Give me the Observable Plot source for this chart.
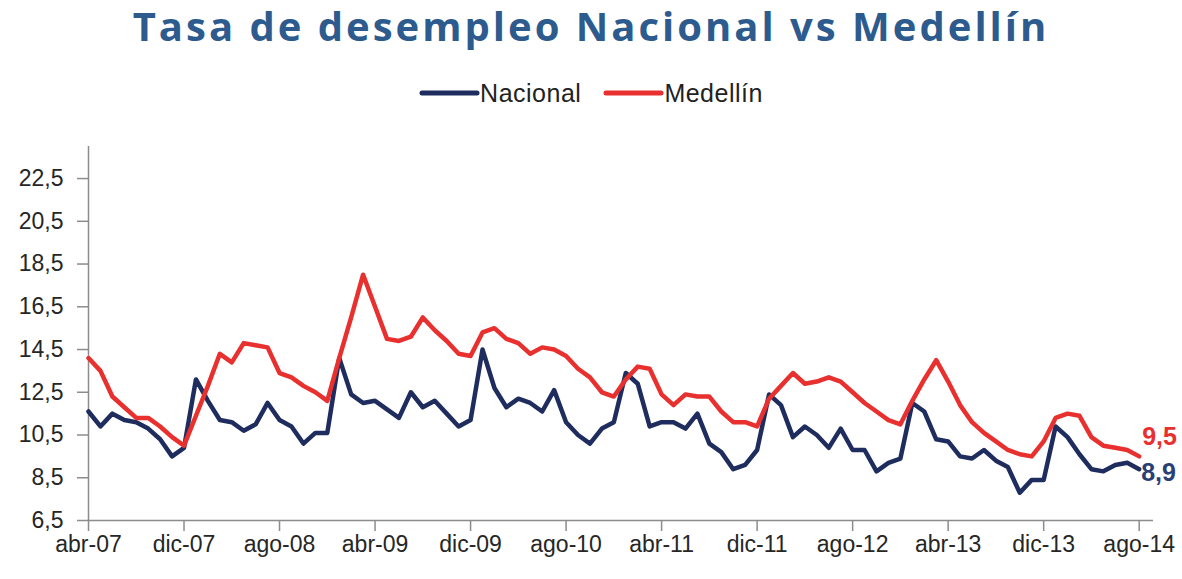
<!DOCTYPE html>
<html><head><meta charset="utf-8">
<script src="https://cdn.jsdelivr.net/npm/d3@7"></script>
<script src="https://cdn.jsdelivr.net/npm/@observablehq/plot@0.6"></script>
<style>
body{margin:0;background:#fff;width:1182px;height:579px;position:relative;overflow:hidden;font-family:"Liberation Sans",Arial,sans-serif;}
#title{position:absolute;left:0;top:0;width:1182px;height:52px;line-height:52px;text-align:center;font-family:"Open Sans",sans-serif;font-weight:700;font-size:40px;letter-spacing:3px;color:#2d5b8e;}
#legend{position:absolute;left:0;top:78px;width:1182px;height:30px;display:flex;justify-content:center;align-items:center;font-size:25px;color:#222;letter-spacing:0.5px;}
#legend svg{display:block;}
#chart{position:absolute;left:0;top:120px;}
</style></head>
<body>
<div id="title">Tasa de desempleo Nacional vs Medellín</div>
<div id="legend"></div>
<div id="chart"></div>
<script>
// Tick labels (every 8 months, starting abr-07)
const xLabels = ["abr-07","dic-07","ago-08","abr-09","dic-09","ago-10","abr-11","dic-11","ago-12","abr-13","dic-13","ago-14"];
const yTicks = [6.5, 8.5, 10.5, 12.5, 14.5, 16.5, 18.5, 20.5, 22.5];
const seriesNames = ["Nacional", "Medellín"];
const seriesColors = ["#1f2d5e", "#e8302f"];

// Monthly unemployment rate, abr-07 .. ago-14
const nacional = [
  11.6,10.9,11.5,11.2,11.1,10.8,10.3,9.5,9.9,13.1,
  12.1,11.2,11.1,10.7,11.0,12.0,11.2,10.9,10.1,10.6,
  10.6,14.1,12.4,12.0,12.1,11.7,11.3,12.5,11.8,12.1,
  11.5,10.9,11.2,14.5,12.7,11.8,12.2,12.0,11.6,12.6,
  11.1,10.5,10.1,10.8,11.1,13.4,12.9,10.9,11.1,11.1,
  10.8,11.5,10.1,9.7,8.9,9.1,9.8,12.4,11.9,10.4,
  10.9,10.5,9.9,10.8,9.8,9.8,8.8,9.2,9.4,12.0,
  11.6,10.3,10.2,9.5,9.4,9.8,9.3,9.0,7.8,8.4,
  8.4,10.9,10.4,9.6,8.9,8.8,9.1,9.2,8.9
];
const medellin = [
  14.1,13.5,12.3,11.8,11.3,11.3,10.9,10.4,10.0,11.4,
  12.8,14.3,13.9,14.8,14.7,14.6,13.4,13.2,12.8,12.5,
  12.1,14.1,16.0,18.0,16.5,15.0,14.9,15.1,16.0,15.4,
  14.9,14.3,14.2,15.3,15.5,15.0,14.8,14.3,14.6,14.5,
  14.2,13.6,13.2,12.5,12.3,13.1,13.7,13.6,12.4,11.9,
  12.4,12.3,12.3,11.6,11.1,11.1,10.9,12.2,12.8,13.4,
  12.9,13.0,13.2,13.0,12.5,12.0,11.6,11.2,11.0,12.1,
  13.1,14.0,13.0,11.9,11.1,10.6,10.2,9.8,9.6,9.5,
  10.2,11.3,11.5,11.4,10.4,10.0,9.9,9.8,9.5
];

const fmt = d => d.toFixed(1).replace(".", ",");

// Legend
const legend = document.getElementById("legend");
seriesNames.forEach((name, k) => {
  const ns = "http://www.w3.org/2000/svg";
  const s = document.createElementNS(ns, "svg");
  s.setAttribute("width", 61); s.setAttribute("height", 10);
  const l = document.createElementNS(ns, "line");
  l.setAttribute("x1", 3); l.setAttribute("x2", 58); l.setAttribute("y1", 5); l.setAttribute("y2", 5);
  l.setAttribute("stroke", seriesColors[k]); l.setAttribute("stroke-width", 5); l.setAttribute("stroke-linecap", "round");
  s.appendChild(l);
  legend.appendChild(s);
  const t = document.createElement("span");
  t.textContent = name;
  if (k === 0) t.style.marginRight = "22px";
  legend.appendChild(t);
});

const last = nacional.length - 1;
const axisColor = "#8c8c8c";
const textColor = "#262626";

const chart = Plot.plot({
  width: 1182,
  height: 459,
  marginLeft: 88,
  marginRight: 29,
  marginTop: 26,
  marginBottom: 59,
  x: {domain: [0, 89.2], axis: null},
  y: {domain: [6.5, 24], axis: null},
  style: {fontFamily: "'Liberation Sans', Arial, sans-serif", fontSize: "23px", color: textColor, background: "transparent", overflow: "visible"},
  marks: [
    Plot.axisY({ticks: yTicks, tickSize: 11, tickPadding: 14, tickFormat: fmt, stroke: axisColor, strokeWidth: 1.5, fill: textColor}),
    Plot.axisX({ticks: d3.range(0, xLabels.length * 8, 8), tickSize: 11, tickPadding: 4, tickFormat: d => xLabels[d / 8], stroke: axisColor, strokeWidth: 1.5, fill: textColor}),
    Plot.ruleX([0], {stroke: axisColor, strokeWidth: 1.5}),
    Plot.ruleY([6.5], {stroke: axisColor, strokeWidth: 1.5}),
    Plot.lineY(nacional, {x: (d, i) => i, y: d => d, stroke: seriesColors[0], strokeWidth: 4.5, strokeLinejoin: "round", strokeLinecap: "round"}),
    Plot.lineY(medellin, {x: (d, i) => i, y: d => d, stroke: seriesColors[1], strokeWidth: 4.5, strokeLinejoin: "round", strokeLinecap: "round"}),
    Plot.text([last], {x: d => d, y: d => medellin[d], text: d => fmt(medellin[d]), textAnchor: "start", dx: 3, dy: -19, fill: seriesColors[1], fontWeight: "bold", fontSize: 25}),
    Plot.text([last], {x: d => d, y: d => nacional[d], text: d => fmt(nacional[d]), textAnchor: "start", dx: 2, dy: 4, fill: "#2a3f75", fontWeight: "bold", fontSize: 25})
  ]
});
document.getElementById("chart").appendChild(chart);
</script>
</body></html>
